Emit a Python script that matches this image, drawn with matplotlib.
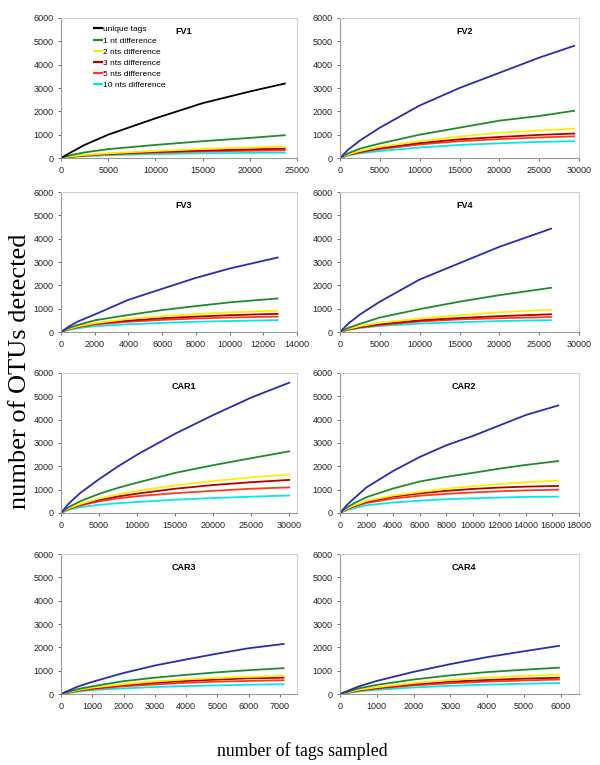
import matplotlib
matplotlib.use("Agg")
import matplotlib.pyplot as plt

# ---------------- data ----------------
series_labels = ["unique tags", "1 nt difference", "2 nts difference",
                 "3 nts difference", "5 nts difference", "10 nts difference"]

FV1_x = [0, 1000, 2500, 5000, 10000, 15000, 20000, 23800]
FV1_y = [[0, 230, 560, 1000, 1700, 2350, 2850, 3200],
         [0, 120, 240, 380, 560, 720, 860, 980],
         [0, 70, 130, 200, 300, 390, 450, 500],
         [0, 60, 115, 180, 260, 320, 370, 400],
         [0, 55, 100, 160, 230, 280, 310, 330],
         [0, 45, 80, 120, 170, 200, 220, 230]]

FV2_x = [0, 1000, 2500, 5000, 10000, 15000, 20000, 25000, 29500]
FV2_y = [[0, 350, 750, 1300, 2250, 3000, 3650, 4300, 4820],
         [0, 200, 400, 620, 1000, 1300, 1600, 1800, 2030],
         [0, 150, 300, 480, 720, 920, 1080, 1180, 1260],
         [0, 140, 260, 420, 640, 800, 900, 990, 1050],
         [0, 130, 240, 380, 580, 720, 810, 880, 930],
         [0, 110, 200, 300, 450, 560, 630, 690, 720]]

FV3_x = [0, 500, 1000, 2000, 4000, 6000, 8000, 10000, 12900]
FV3_y = [[0, 250, 450, 750, 1380, 1850, 2320, 2720, 3200],
         [0, 180, 300, 500, 730, 940, 1110, 1270, 1440],
         [0, 140, 240, 380, 560, 680, 770, 840, 920],
         [0, 130, 220, 360, 490, 590, 660, 720, 780],
         [0, 120, 200, 320, 440, 520, 580, 620, 660],
         [0, 100, 160, 250, 330, 390, 440, 470, 510]]

FV4_x = [0, 1000, 2500, 5000, 10000, 15000, 20000, 26600]
FV4_y = [[0, 350, 750, 1300, 2250, 2950, 3650, 4440],
         [0, 170, 350, 620, 980, 1300, 1580, 1900],
         [0, 130, 250, 400, 580, 720, 840, 960],
         [0, 110, 210, 330, 500, 600, 680, 760],
         [0, 100, 190, 300, 450, 540, 590, 640],
         [0, 90, 170, 260, 360, 420, 470, 510]]

CAR1_x = [0, 1000, 2500, 5000, 7500, 10000, 15000, 20000, 25000, 30100]
CAR1_y = [[0, 400, 850, 1450, 2000, 2500, 3400, 4200, 4950, 5600],
          [0, 250, 500, 820, 1080, 1300, 1720, 2050, 2350, 2650],
          [0, 200, 380, 620, 800, 950, 1180, 1370, 1530, 1650],
          [0, 190, 350, 560, 710, 830, 1040, 1200, 1320, 1420],
          [0, 170, 320, 500, 630, 720, 850, 950, 1040, 1100],
          [0, 140, 250, 350, 420, 470, 570, 640, 700, 750]]

CAR2_x = [0, 500, 1000, 2000, 4000, 6000, 8000, 10000, 12000, 14000, 16500]
CAR2_y = [[0, 330, 600, 1100, 1800, 2400, 2900, 3300, 3750, 4200, 4620],
          [0, 230, 400, 680, 1050, 1350, 1550, 1720, 1900, 2060, 2230],
          [0, 180, 310, 520, 750, 900, 1040, 1150, 1240, 1320, 1390],
          [0, 170, 290, 480, 700, 840, 950, 1030, 1090, 1130, 1160],
          [0, 150, 260, 430, 620, 740, 820, 880, 930, 970, 1000],
          [0, 120, 200, 330, 450, 530, 590, 630, 660, 690, 700]]

CAR3_x = [0, 500, 1000, 2000, 3000, 4000, 5000, 6000, 7150]
CAR3_y = [[0, 300, 520, 900, 1220, 1480, 1730, 1960, 2150],
          [0, 200, 330, 550, 700, 820, 930, 1020, 1110],
          [0, 160, 270, 420, 540, 630, 690, 740, 780],
          [0, 145, 240, 380, 480, 560, 620, 670, 700],
          [0, 130, 210, 330, 410, 480, 530, 560, 590],
          [0, 100, 170, 240, 300, 340, 370, 400, 420]]

CAR4_x = [0, 500, 1000, 2000, 3000, 4000, 5000, 5980]
CAR4_y = [[0, 320, 560, 950, 1280, 1580, 1830, 2070],
          [0, 240, 390, 620, 800, 940, 1040, 1130],
          [0, 180, 290, 470, 600, 700, 780, 830],
          [0, 160, 260, 420, 530, 600, 660, 700],
          [0, 140, 230, 370, 460, 530, 580, 620],
          [0, 110, 180, 280, 350, 400, 440, 470]]

panel_names = ["FV1", "FV2", "FV3", "FV4", "CAR1", "CAR2", "CAR3", "CAR4"]
panel_x = [FV1_x, FV2_x, FV3_x, FV4_x, CAR1_x, CAR2_x, CAR3_x, CAR4_x]
panel_y = [FV1_y, FV2_y, FV3_y, FV4_y, CAR1_y, CAR2_y, CAR3_y, CAR4_y]
x_max = [25000, 30000, 14000, 30000, 31000, 18000, 7550, 6500]
x_tick_max = [25000, 30000, 14000, 30000, 30000, 18000, 7000, 6000]
x_tick_step = [5000, 5000, 2000, 5000, 5000, 2000, 1000, 1000]
y_ticks = [0, 1000, 2000, 3000, 4000, 5000, 6000]

# ---------------- style ----------------
colors = ["#2b2bb0", "#1f8a2a", "#ffee00", "#b00000", "#ff3a1a", "#00e8f0"]
first_color = "#000000"

W, H = 600, 765
fig = plt.figure(figsize=(W / 100, H / 100), dpi=100)

col_lr = [(61, 297), (340, 579)]
row_tb = [(18, 158), (192, 332), (373, 513), (554, 694)]

for i, name in enumerate(panel_names):
    r, c = divmod(i, 2)
    l, rr = col_lr[c]
    t, b = row_tb[r]
    ax = fig.add_axes([l / W, 1 - b / H, (rr - l) / W, (b - t) / H])
    xs = panel_x[i]
    order = [5, 4, 3, 2, 1, 0]
    lines = {}
    for k in order:
        col = colors[k]
        if k == 0 and i == 0:
            col = first_color
        ln, = ax.plot(xs, panel_y[i][k], color=col, lw=1.3,
                      label=series_labels[k], solid_capstyle="butt")
        lines[k] = ln
    ax.set_xlim(0, x_max[i])
    ax.set_ylim(0, 6000)
    ax.set_xticks(list(range(0, x_tick_max[i] + 1, x_tick_step[i])))
    ax.set_yticks(y_ticks)
    ax.tick_params(labelsize=6.5, length=2.5, width=0.6, colors="#555555",
                   labelcolor="#222222", pad=3)
    for s in ["left", "bottom"]:
        ax.spines[s].set_color("#9a9a9a")
        ax.spines[s].set_linewidth(0.8)
    for s in ["top", "right"]:
        ax.spines[s].set_color("#d0d0d0")
        ax.spines[s].set_linewidth(0.8)
    ax.text(0.52, 0.9, name, transform=ax.transAxes, ha="center", va="center",
            fontsize=6.5, fontweight="bold", family="Liberation Sans")
    for lab in ax.get_xticklabels() + ax.get_yticklabels():
        lab.set_family("Liberation Sans")
    if i == 0:
        handles = [lines[k] for k in range(6)]
        leg = ax.legend(handles, series_labels, loc="upper left",
                        bbox_to_anchor=(0.12, 0.97), frameon=False,
                        prop={"family": "Liberation Sans", "size": 6},
                        handlelength=1.2, handletextpad=0.1,
                        labelspacing=0.4, borderaxespad=0.0)
        for h in leg.get_lines():
            h.set_linewidth(1.6)

fig.text(20 / W, 1 - 371 / H, "number of OTUs detected", rotation=90,
         ha="center", va="center", fontsize=19, family="Liberation Serif")
fig.text(302 / W, 1 - 751 / H, "number of tags sampled",
         ha="center", va="center", fontsize=12.8, family="Liberation Serif")

fig.savefig("out.png", dpi=100, facecolor="white")
